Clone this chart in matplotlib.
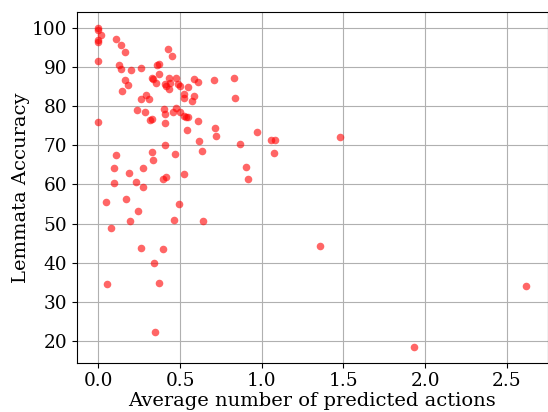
import matplotlib
matplotlib.use("Agg")
import matplotlib.pyplot as plt

# average number of predicted actions vs lemmata accuracy
avg_actions = [
    0.000, 0.000, 0.016, 0.000, 0.000, 0.109, 0.138, 0.165, 0.000, 0.428,
    0.451, 0.128, 0.138, 0.198, 0.263, 0.358, 0.372, 0.370, 0.330, 0.334,
    0.165, 0.181, 0.144, 0.350, 0.410, 0.432, 0.438, 0.412, 0.430, 0.477,
    0.490, 0.500, 0.547, 0.524, 0.522, 0.586, 0.607, 0.588, 0.572, 0.708,
    0.829, 0.839, 0.292, 0.263, 0.309, 0.235, 0.284, 0.400, 0.406, 0.455,
    0.475, 0.498, 0.525, 0.537, 0.549, 0.316, 0.329, 0.406, 0.000, 0.611,
    0.543, 0.713, 0.720, 0.969, 0.615, 0.408, 0.636, 0.866, 0.905, 0.917,
    0.107, 0.328, 0.336, 0.466, 0.095, 0.187, 0.272, 0.521, 0.416, 0.395,
    0.093, 0.228, 0.274, 0.047, 0.171, 0.496, 0.241, 0.191, 0.465, 0.642,
    0.076, 0.261, 0.395, 0.342, 0.051, 0.370, 0.348, 1.055, 1.083, 1.076,
    1.481, 1.358, 1.934, 2.618,
]
accuracy = [
    100.0, 99.5, 98.3, 96.8, 96.5, 97.1, 95.6, 93.9, 91.5, 94.6,
    92.9, 90.5, 89.5, 89.2, 89.7, 90.4, 90.8, 88.1, 87.2, 87.0,
    86.6, 85.4, 83.8, 85.9, 85.6, 87.1, 86.0, 85.2, 84.5, 87.3,
    85.6, 85.1, 84.9, 83.2, 82.1, 87.0, 86.2, 82.6, 81.4, 86.6,
    87.1, 82.0, 82.9, 81.8, 81.8, 78.9, 78.6, 79.2, 78.0, 78.5,
    79.5, 78.4, 77.4, 77.3, 77.3, 76.5, 76.7, 75.6, 76.0, 76.3,
    74.0, 74.4, 72.3, 73.5, 71.1, 70.2, 68.6, 70.3, 64.5, 61.4,
    67.4, 68.3, 66.2, 67.8, 64.1, 62.9, 64.3, 62.7, 61.9, 61.3,
    60.4, 60.6, 59.3, 55.5, 56.3, 55.1, 53.3, 50.7, 50.9, 50.6,
    48.8, 43.7, 43.6, 39.8, 34.6, 34.9, 22.3, 71.4, 71.4, 67.9,
    72.2, 44.3, 18.5, 34.1,
]

plt.rcParams['font.family'] = 'DejaVu Serif'

fig = plt.figure(figsize=(5.48, 4.12), dpi=100)
ax = fig.add_axes([0.1405, 0.1197, 0.8586, 0.8512])

ax.scatter(avg_actions, accuracy, s=30, color='red', alpha=0.6, linewidths=0)
ax.grid(True)
ax.set_axisbelow(True)

ax.set_xticks([0.0, 0.5, 1.0, 1.5, 2.0, 2.5])
ax.set_yticks([20, 30, 40, 50, 60, 70, 80, 90, 100])
ax.tick_params(labelsize=13.3)
ax.set_xlabel("Average number of predicted actions", fontsize=14, labelpad=1)
ax.set_ylabel("Lemmata Accuracy", fontsize=14, labelpad=1.5)

fig.savefig("out.png", dpi=100)
